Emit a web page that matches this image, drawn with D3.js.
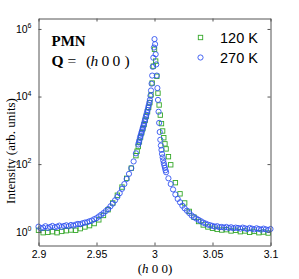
<!DOCTYPE html>
<html>
<head>
  <meta charset="UTF-8">
  <title>PMN (h 0 0) scan</title>
  <style>
    body { margin: 0; background: #fff; }
    svg { display: block; }
    .tick text { font-family: "Liberation Sans", Arial, sans-serif; fill: #000; }
    .serif { font-family: "Liberation Serif", "Times New Roman", serif; fill: #000; }
  </style>
</head>
<body>
<svg></svg>
<script src="https://d3js.org/d3.v7.min.js"></script>
<script>

// ---- data ----
let xTicks = [2.9, 2.95, 3, 3.05, 3.1];
let xTickLabels = ["2.9", "2.95", "3", "3.05", "3.1"];
let yTicks = [1, 100, 1e4, 1e6];
let yTickExp = ["0", "2", "4", "6"];
let seriesNames = ["120 K", "270 K"];

// 120 K  (green squares)
let h120 = [2.900, 2.904, 2.908, 2.912, 2.916, 2.920, 2.924, 2.928, 2.932, 2.936, 2.940,
  2.944, 2.948, 2.952, 2.956, 2.960, 2.964, 2.968, 2.972, 2.976, 2.980, 2.984,
  2.985, 2.986, 2.987, 2.988, 2.989, 2.990, 2.991, 2.992, 2.993, 2.994, 2.995, 2.996,
  2.997, 2.998, 2.999, 3.000, 3.001, 3.002, 3.003, 3.004, 3.005, 3.006, 3.007, 3.008,
  3.009, 3.010,
  3.012, 3.014, 3.018, 3.022, 3.026, 3.030, 3.034, 3.038, 3.042, 3.046, 3.050, 3.054,
  3.058, 3.062, 3.066, 3.070, 3.074, 3.078, 3.082, 3.086, 3.090, 3.094, 3.098];
let i120 = [1.10, 0.933, 0.955, 1.00, 0.933, 1.02, 1.07, 1.12, 1.10, 1.23, 1.38,
  1.51, 1.74, 2.24, 3.02, 4.47, 7.08, 12.0, 20.9, 38.0, 75.9, 178,
  240, 331, 457, 631, 851, 1120, 1480, 2000, 2630, 3550, 4790, 6610,
  11200, 25100, 79400, 251000, 112000, 39800, 12600, 5620, 2820, 1580, 955, 603,
  398, 282,
  166, 95.5, 28.2, 13.2, 7.08, 3.98, 2.69, 2.00, 1.58, 1.38, 1.26, 1.17,
  1.12, 1.15, 1.05, 1.10, 1.00, 1.05, 0.955, 1.02, 0.933, 0.977, 0.912];

// 270 K  (blue circles)
let h270 = [2.900, 2.902, 2.904, 2.906, 2.908, 2.910, 2.912, 2.914, 2.916, 2.918,
  2.920, 2.922, 2.924, 2.926, 2.928, 2.930, 2.932, 2.934, 2.936, 2.938,
  2.940, 2.942, 2.944, 2.946, 2.948, 2.950, 2.952, 2.954, 2.956, 2.958,
  2.960, 2.962, 2.964, 2.966, 2.968, 2.970, 2.972, 2.974, 2.976, 2.978,
  2.980, 2.982, 2.984, 2.986,
  2.9865, 2.9870, 2.9875, 2.9880, 2.9885, 2.9890, 2.9895, 2.9900, 2.9905, 2.9910,
  2.9915, 2.9920, 2.9925, 2.9930, 2.9935, 2.9940, 2.9945, 2.9950, 2.9955, 2.9960,
  2.9965, 2.9970, 2.9975, 2.9980, 2.9985, 2.9990, 2.9995, 3.0000,
  3.0005, 3.0010, 3.0015, 3.0020, 3.0025, 3.0030, 3.0035, 3.0040, 3.0045, 3.0050,
  3.0055, 3.0060, 3.0065, 3.0070, 3.0075, 3.0080, 3.0085, 3.0090, 3.0095, 3.0100,
  3.012, 3.014, 3.016, 3.018, 3.020, 3.022, 3.024, 3.026, 3.028, 3.030,
  3.032, 3.034, 3.036, 3.038, 3.040, 3.042, 3.044, 3.046, 3.048, 3.050,
  3.052, 3.054, 3.056, 3.058, 3.060, 3.062, 3.064, 3.066, 3.068, 3.070,
  3.072, 3.074, 3.076, 3.078, 3.080, 3.082, 3.084, 3.086, 3.088, 3.090,
  3.092, 3.094, 3.096, 3.098, 3.100];
let i270 = [1.41, 1.26, 1.32, 1.45, 1.29, 1.38, 1.48, 1.35, 1.41, 1.51,
  1.38, 1.48, 1.55, 1.45, 1.58, 1.51, 1.62, 1.70, 1.66, 1.78,
  1.86, 1.91, 2.04, 2.14, 2.34, 2.51, 2.82, 3.16, 3.55, 4.07,
  4.68, 5.62, 6.76, 8.51, 10.7, 13.8, 18.6, 25.7, 36.3, 51.3,
  75.9, 120, 209, 380,
  437, 513, 603, 692, 794, 912, 1050, 1200, 1380, 1580,
  1860, 2140, 2510, 2880, 3390, 3980, 4680, 5500, 6610, 7940,
  10500, 15100, 24000, 41700, 75900, 141000, 282000, 501000,
  355000, 178000, 89100, 41700, 17800, 7940, 3550, 1660, 891, 525,
  355, 263, 200, 158, 129, 107, 91.2, 77.6, 66.1, 57.5,
  38.0, 25.7, 17.8, 12.6, 9.33, 7.41, 5.89, 4.90, 4.17, 3.55,
  3.02, 2.69, 2.45, 2.24, 2.04, 1.86, 1.74, 1.62, 1.55, 1.48,
  1.41, 1.45, 1.35, 1.38, 1.32, 1.38, 1.29, 1.35, 1.26, 1.32,
  1.29, 1.23, 1.32, 1.26, 1.20, 1.29, 1.23, 1.17, 1.26, 1.20,
  1.15, 1.23, 1.17, 1.12, 1.20];

// ---- layout ----
let width = 299, height = 279;
let mLeft = 38.5, mRight = 270.5, mTop = 18.5, mBottom = 245.5;
let green = "#36a82a", blue = "#3355f0";

let svg = d3.select("svg")
    .attr("width", width)
    .attr("height", height);

let x = d3.scaleLinear().domain([2.9, 3.1]).range([mLeft, mRight]);
let y = d3.scaleLog().domain([0.39, 2.04e6]).range([mBottom, mTop]);

let pts120 = h120.map((h, i) => ({h: h, v: i120[i]}));
let pts270 = h270.map((h, i) => ({h: h, v: i270[i]}));

// markers: squares first, circles drawn on top
let sq = 4.4;
svg.append("g")
    .selectAll("rect")
    .data(pts120)
    .enter()
    .append("rect")
    .attr("x", d => x(d.h) - sq / 2)
    .attr("y", d => y(d.v) - sq / 2)
    .attr("width", sq)
    .attr("height", sq)
    .attr("fill", "none")
    .attr("stroke", green)
    .attr("stroke-width", 0.9);

svg.append("g")
    .selectAll("circle")
    .data(pts270)
    .enter()
    .append("circle")
    .attr("cx", d => x(d.h))
    .attr("cy", d => y(d.v))
    .attr("r", 2.6)
    .attr("fill", "none")
    .attr("stroke", blue)
    .attr("stroke-width", 0.9);

// frame + inward ticks on every side
function styleAxis(g) {
  g.select(".domain").attr("stroke", "#555");
  g.selectAll(".tick line").attr("stroke", "#555");
}

svg.append("g")
    .attr("transform", `translate(0,${mBottom})`)
    .call(d3.axisBottom(x).tickValues(xTicks).tickSize(-3).tickSizeOuter(0).tickPadding(5)
      .tickFormat((d, i) => xTickLabels[i]))
    .call(styleAxis)
    .selectAll("text").attr("font-size", 10.5);

svg.append("g")
    .attr("transform", `translate(0,${mTop})`)
    .call(d3.axisTop(x).tickValues(xTicks).tickSize(-3).tickSizeOuter(0).tickFormat(""))
    .call(styleAxis);

let yAxis = svg.append("g")
    .attr("transform", `translate(${mLeft},0)`)
    .call(d3.axisLeft(y).tickValues(yTicks).tickSize(-3).tickSizeOuter(0).tickPadding(7)
      .tickFormat(""))
    .call(styleAxis);

// 10^n labels with a superscript
yAxis.selectAll(".tick text")
    .attr("font-size", 10.5)
    .each(function(d, i) {
      let t = d3.select(this);
      t.append("tspan").text("10");
      t.append("tspan").attr("font-size", 7).attr("dy", -4.5).text(yTickExp[i]);
    });

svg.append("g")
    .attr("transform", `translate(${mRight},0)`)
    .call(d3.axisRight(y).tickValues(yTicks).tickSize(-3).tickSizeOuter(0).tickFormat(""))
    .call(styleAxis);

// axis titles
svg.append("text")
    .attr("class", "serif")
    .attr("x", 155)
    .attr("y", 272.5)
    .attr("text-anchor", "middle")
    .attr("font-size", 13)
    .html('(<tspan font-style="italic">h</tspan> 0 0)');

svg.append("text")
    .attr("class", "serif")
    .attr("transform", "translate(14.5,151) rotate(-90)")
    .attr("text-anchor", "middle")
    .attr("font-size", 13)
    .text("Intensity (arb. units)");

// sample annotation
svg.append("text")
    .attr("class", "serif")
    .attr("x", 51.5)
    .attr("y", 46)
    .attr("font-size", 15)
    .attr("font-weight", "bold")
    .text("PMN");

let q = svg.append("text")
    .attr("class", "serif")
    .attr("y", 65.5)
    .attr("font-size", 15.5);
q.append("tspan").attr("x", 51.5).attr("font-weight", "bold").text("Q");
q.append("tspan").attr("x", 67.5).text("=");
q.append("tspan").attr("x", 86).text("(");
q.append("tspan").attr("x", 90.5).attr("font-style", "italic").text("h");
q.append("tspan").attr("x", 101.5).text("0");
q.append("tspan").attr("x", 112.5).text("0");
q.append("tspan").attr("x", 124.5).text(")");

// legend
let legend = svg.append("g")
    .selectAll("g")
    .data(seriesNames)
    .enter()
    .append("g")
    .attr("transform", (d, i) => `translate(200.5,${37.5 + i * 20})`);

legend.filter((d, i) => i == 0).append("rect")
    .attr("x", -2.2).attr("y", -2.2).attr("width", 4.4).attr("height", 4.4)
    .attr("fill", "none").attr("stroke", green).attr("stroke-width", 0.9);

legend.filter((d, i) => i == 1).append("circle")
    .attr("r", 2.6)
    .attr("fill", "none").attr("stroke", blue).attr("stroke-width", 0.9);

legend.append("text")
    .attr("x", 19.5)
    .attr("y", 5.5)
    .attr("font-family", "'Liberation Sans', Arial, sans-serif")
    .attr("font-size", 14.5)
    .text(d => d);

</script>
</body>
</html>
